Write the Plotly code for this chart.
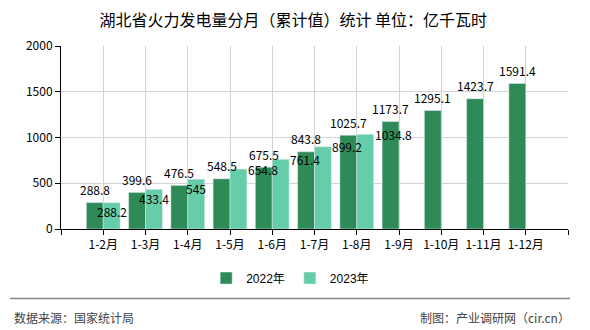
import plotly.graph_objects as go

categories = ['1-2月', '1-3月', '1-4月', '1-5月', '1-6月', '1-7月', '1-8月',
              '1-9月', '1-10月', '1-11月', '1-12月']
values_2022 = [288.8, 399.6, 476.5, 548.5, 675.5, 843.8, 1025.7, 1173.7, 1295.1, 1423.7, 1591.4]
values_2023 = [288.2, 433.4, 545, 654.8, 761.4, 899.2, 1034.8]
series_names = ['2022年', '2023年']
y_ticks = [0, 500, 1000, 1500, 2000]

C2022 = '#2E8B57'
C2023 = '#66CDAA'
FONT = 'Noto Sans CJK SC'

x_pos = list(range(len(categories)))

fig = go.Figure()
fig.add_trace(go.Bar(x=x_pos, y=values_2022, name=series_names[0], marker_color=C2022,
                     width=0.4, offset=-0.4, hoverinfo='y'))
fig.add_trace(go.Bar(x=x_pos[:len(values_2023)], y=values_2023, name=series_names[1],
                     marker_color=C2023, width=0.4, offset=0, hoverinfo='y'))

annotations = []
for i, v in enumerate(values_2022):
    annotations.append(dict(x=i - 0.2, y=v, xref='x', yref='y', text=f'{v:g}', showarrow=False,
                            yanchor='middle', yshift=13,
                            font=dict(family=FONT, size=12, color='#000')))
for i, v in enumerate(values_2023):
    if i < 3:
        annotations.append(dict(x=i + 0.2, y=v, xref='x', yref='y', text=f'{v:g}', showarrow=False,
                                yanchor='middle', yshift=-9,
                                font=dict(family=FONT, size=12, color='#000')))
    else:
        annotations.append(dict(x=i + 0.4, y=v, xref='x', yref='y', text=f'{v:g}', showarrow=False,
                                xanchor='left', yanchor='middle', xshift=-1,
                                font=dict(family=FONT, size=12, color='#000')))

annotations.append(dict(x=-0.0966, y=-0.481, xref='paper', yref='paper', text='数据来源：国家统计局',
                        showarrow=False, xanchor='left', yanchor='middle',
                        font=dict(family=FONT, size=12, color='#444')))
annotations.append(dict(x=1.008, y=-0.481, xref='paper', yref='paper', text='制图：产业调研网（cir.cn）',
                        showarrow=False, xanchor='right', yanchor='middle',
                        font=dict(family=FONT, size=12, color='#444')))

fig.update_layout(
    width=590, height=330,
    margin=dict(l=61, r=22, t=46, b=101),
    paper_bgcolor='white', plot_bgcolor='white',
    title=dict(text='湖北省火力发电量分月（累计值）统计 单位：亿千瓦时', x=0.497, xanchor='center',
               y=0.939, yanchor='middle', font=dict(family=FONT, size=16, color='#000')),
    showlegend=True,
    legend=dict(orientation='h', x=0.452, xanchor='center', y=-0.268, yanchor='middle',
                font=dict(family='Liberation Sans, ' + FONT, size=12, color='#000'),
                itemclick=False),
    annotations=annotations,
    shapes=[dict(type='line', xref='paper', yref='paper', x0=-0.1006, x1=1.004, y0=-0.38, y1=-0.38,
                 line=dict(color='#888', width=1.5))],
    xaxis=dict(range=[-1, 11], tickmode='array', tickvals=list(range(-1, 12)),
               ticktext=[''] + categories + [''], showgrid=True, gridcolor='#d3d3d3', gridwidth=1,
               showline=True, linecolor='#000', linewidth=1, ticks='outside', ticklen=5,
               tickcolor='#000', zeroline=False, fixedrange=True,
               tickfont=dict(family=FONT, size=12, color='#000')),
    yaxis=dict(range=[0, 2000], tickmode='array', tickvals=y_ticks, showgrid=True,
               gridcolor='#d3d3d3', gridwidth=1, showline=True, linecolor='#000', linewidth=1,
               ticks='outside', ticklen=5, tickcolor='#000', zeroline=False, fixedrange=True,
               tickfont=dict(family=FONT, size=12, color='#000')),
    bargap=0.2,
)

fig.write_html('out.html')
